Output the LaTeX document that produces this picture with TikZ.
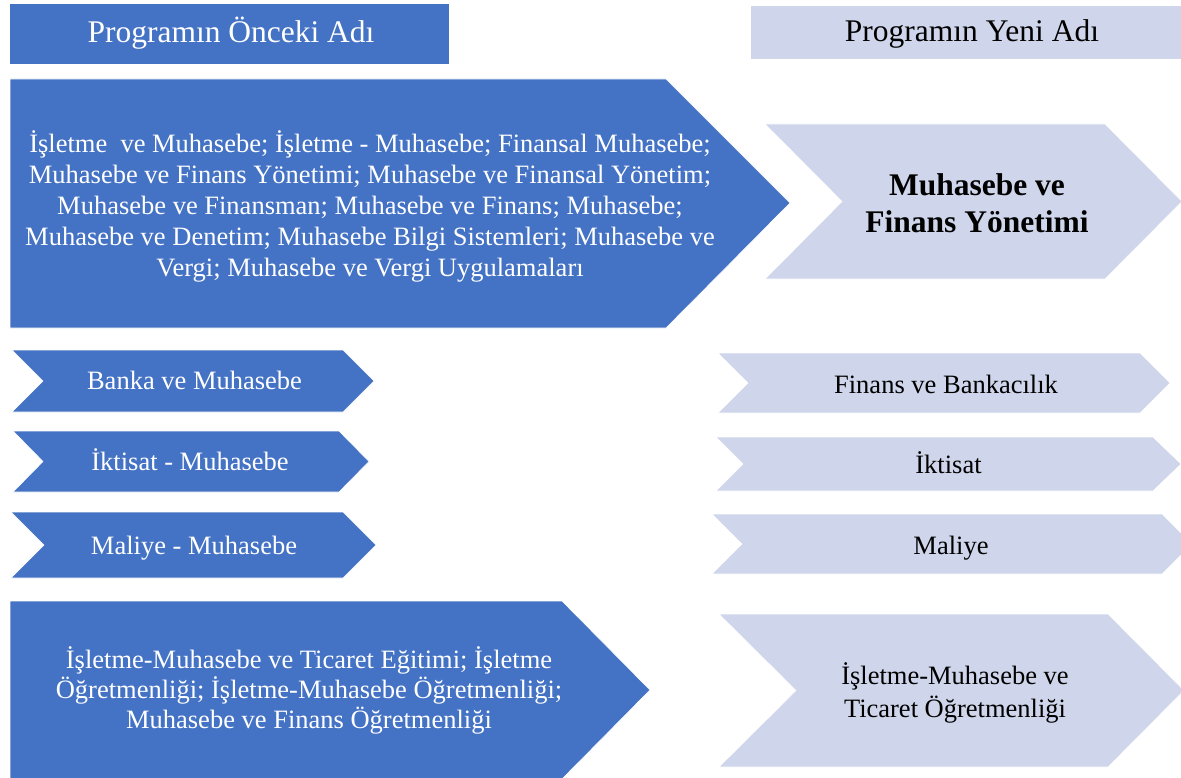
\documentclass[tikz,border=0pt]{standalone}
\usepackage{fontspec}
\setmainfont{Liberation Serif}
\definecolor{oblue}{HTML}{4472C4}
\definecolor{olav}{HTML}{CFD5EA}
\begin{document}
\begin{tikzpicture}[x=1pt,y=-1pt,
  bluefill/.style={fill=oblue,draw=white,line width=0.6pt},
  lavfill/.style={fill=olav,draw=white,line width=0.6pt},
  wtxt/.style={text=white,font=\fontsize{26.5}{30}\selectfont,align=center,inner sep=0pt},
  wtxtb/.style={text=white,font=\fontsize{26.5}{31}\selectfont,align=center,inner sep=0pt},
  btxt/.style={text=black,font=\fontsize{26.5}{33}\selectfont,align=center,inner sep=0pt},
  boldtxt/.style={text=black,font=\fontsize{31.5}{37}\selectfont\bfseries,align=center,inner sep=0pt},
  hdr/.style={font=\fontsize{31.5}{36}\selectfont,inner sep=0pt,anchor=base}]
\useasboundingbox (0,0) rectangle (1181,778);
\clip (0,0) rectangle (1181,778);
% headers
\fill[oblue] (10,4) rectangle (449,64);
\node[hdr,text=white] (hl) at (231,43) {Programın Önceki Adı};
\fill[olav] (751,6) rectangle (1181,59);
\node[hdr] (hr) at (972,42) {Programın Yeni Adı};
% left column
\path[bluefill] (10,79) -- (666,79) -- (790,203) -- (666,328) -- (10,328) -- cycle;
\node[wtxtb] (a1) at (370,206) {İşletme\ \ ve Muhasebe; İşletme - Muhasebe; Finansal Muhasebe;\\Muhasebe ve Finans Yönetimi; Muhasebe ve Finansal Yönetim;\\Muhasebe ve Finansman; Muhasebe ve Finans; Muhasebe;\\Muhasebe ve Denetim; Muhasebe Bilgi Sistemleri; Muhasebe ve\\Vergi; Muhasebe ve Vergi Uygulamaları};
\path[bluefill] (12,350) -- (343,350) -- (374,381) -- (343,412) -- (12,412) -- (43,381) -- cycle;
\node[wtxt,anchor=base] (a2) at (194.5,389) {Banka ve Muhasebe};
\path[bluefill] (13,431) -- (339,431) -- (369,461.5) -- (339,492) -- (13,492) -- (43,461.5) -- cycle;
\node[wtxt,anchor=base] (a3) at (190,470) {İktisat - Muhasebe};
\path[bluefill] (11,512) -- (343,512) -- (376,545) -- (343,578) -- (11,578) -- (44,545) -- cycle;
\node[wtxt,anchor=base] (a4) at (194,554) {Maliye - Muhasebe};
\path[bluefill] (10,601) -- (562,601) -- (650,690) -- (562,779) -- (10,779) -- cycle;
\node[wtxt] (a5) at (309,690) {İşletme-Muhasebe ve Ticaret Eğitimi; İşletme\\Öğretmenliği; İşletme-Muhasebe Öğretmenliği;\\Muhasebe ve Finans Öğretmenliği};
% right column
\path[lavfill] (765,124) -- (1105,124) -- (1182,201.5) -- (1105,279) -- (765,279) -- (842,201.5) -- cycle;
\node[boldtxt] (b1) at (977,203) {Muhasebe ve\\Finans Yönetimi};
\path[lavfill] (718,353) -- (1140,353) -- (1170,383) -- (1140,413) -- (718,413) -- (748,383) -- cycle;
\node[btxt,anchor=base] (b2) at (946,393) {Finans ve Bankacılık};
\path[lavfill] (716,437) -- (1153,437) -- (1181,464) -- (1153,491) -- (716,491) -- (743,464) -- cycle;
\node[btxt,anchor=base] (b3) at (948.5,473) {İktisat};
\path[lavfill] (712,514) -- (1162,514) -- (1192,544) -- (1162,574) -- (712,574) -- (742,544) -- cycle;
\node[btxt,anchor=base] (b4) at (951,554) {Maliye};
\path[lavfill] (719,614) -- (1108,614) -- (1184,690.5) -- (1108,767) -- (719,767) -- (796,690.5) -- cycle;
\node[btxt] (b5) at (955,693) {İşletme-Muhasebe ve\\Ticaret Öğretmenliği};
\end{tikzpicture}
\end{document}
